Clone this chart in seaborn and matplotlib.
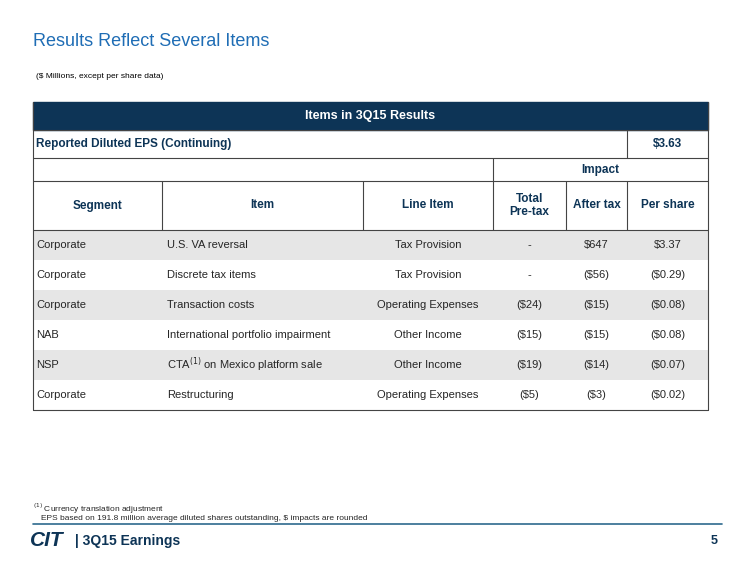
import matplotlib.pyplot as plt
import seaborn as sns
from matplotlib.patches import Rectangle

segments = ["Corporate", "Corporate", "Corporate", "NAB", "NSP", "Corporate"]
items = ["U.S. VA reversal", "Discrete tax items", "Transaction costs",
         "International portfolio impairment", "CTA$^{(1)}$ on Mexico platform sale",
         "Restructuring"]
line_items = ["Tax Provision", "Tax Provision", "Operating Expenses",
              "Other Income", "Other Income", "Operating Expenses"]
pretax = ["-", "-", "($24)", "($15)", "($19)", "($5)"]
after_tax = ["$647", "($56)", "($15)", "($15)", "($14)", "($3)"]
per_share = ["$3.37", "($0.29)", "($0.08)", "($0.08)", "($0.07)", "($0.02)"]
reported_eps = "$3.63"

sns.set_style("white")
plt.rcParams["font.family"] = ["Liberation Sans", "DejaVu Sans"]

NAVY = "#0d3456"
BLUE = "#1f6db5"
GRID = "#444444"
cols = [33, 162, 363, 493, 566, 627, 708]

fig = plt.figure(figsize=(7.5, 5.63), dpi=100)
ax = fig.add_axes([0, 0, 1, 1])
ax.set_xlim(0, 750)
ax.set_ylim(563, 0)
ax.axis("off")

ax.text(33, 42, "Results Reflect Several Items", fontsize=13, color=BLUE, va="center")
ax.text(36, 76, "($ Millions, except per share data)", fontsize=6, color="black", va="center")

# title bar
ax.add_patch(Rectangle((33, 102), 675, 28, color=NAVY))
ax.text(370, 116, "Items in 3Q15 Results", color="white", fontsize=9,
        fontweight="bold", ha="center", va="center")

lw = 0.8
def hline(y, x0=33, x1=708):
    ax.plot([x0, x1], [y, y], color=GRID, lw=lw)
def vline(x, y0, y1):
    ax.plot([x, x], [y0, y1], color=GRID, lw=lw)

# data rows, shaded every other one
top = 230
rh = 30
for i in range(len(segments)):
    y0 = top + i * rh
    if i % 2 == 0:
        ax.add_patch(Rectangle((33, y0), 675, rh, color="#e6e6e6", lw=0))
    yc = y0 + rh / 2
    ax.text(36, yc, segments[i], fontsize=8, va="center")
    ax.text(167, yc, items[i], fontsize=8, va="center")
    ax.text(428, yc, line_items[i], fontsize=8, va="center", ha="center")
    ax.text(529.5, yc, pretax[i], fontsize=8, va="center", ha="center")
    ax.text(596.5, yc, after_tax[i], fontsize=8, va="center", ha="center")
    ax.text(667.5, yc, per_share[i], fontsize=8, va="center", ha="center")

bottom = top + rh * len(segments)
hline(130); hline(158); hline(181); hline(top); hline(bottom)
vline(33, 102, bottom); vline(708, 102, bottom)
vline(627, 130, 158)
vline(493, 158, 181)
for x in cols[1:-1]:
    vline(x, 181, top)

ax.text(36, 144, "Reported Diluted EPS (Continuing)", fontsize=8.5, fontweight="bold",
        color=NAVY, va="center")
ax.text(667.5, 144, reported_eps, fontsize=8.5, fontweight="bold", color=NAVY,
        va="center", ha="center")
ax.text(600.5, 169.5, "Impact", fontsize=8.5, fontweight="bold", color=NAVY,
        va="center", ha="center")
headers = ["Segment", "Item", "Line Item", "Total\nPre-tax", "After tax", "Per share"]
for j, h in enumerate(headers):
    ax.text((cols[j] + cols[j + 1]) / 2, 205.5, h, fontsize=8.5, fontweight="bold",
            color=NAVY, va="center", ha="center", linespacing=1.2)

# footnotes
ax.text(33, 509, "$^{(1)}$ Currency translation adjustment", fontsize=6, va="center")
ax.text(41, 519, "EPS based on 191.8 million average diluted shares outstanding, $ impacts are rounded",
        fontsize=6, va="center")
ax.plot([33, 722], [524, 524], color="#2e6a8e", lw=1.2)

# footer
ax.text(30, 541, "CIT", fontsize=15, fontweight="bold", color=NAVY, va="center",
        fontstyle="italic")
ax.text(75, 541, "| 3Q15 Earnings", fontsize=10, fontweight="bold", color=NAVY, va="center")
ax.text(718, 541, "5", fontsize=9, fontweight="bold", color=NAVY, va="center", ha="right")

fig.savefig("out.png", dpi=100)
